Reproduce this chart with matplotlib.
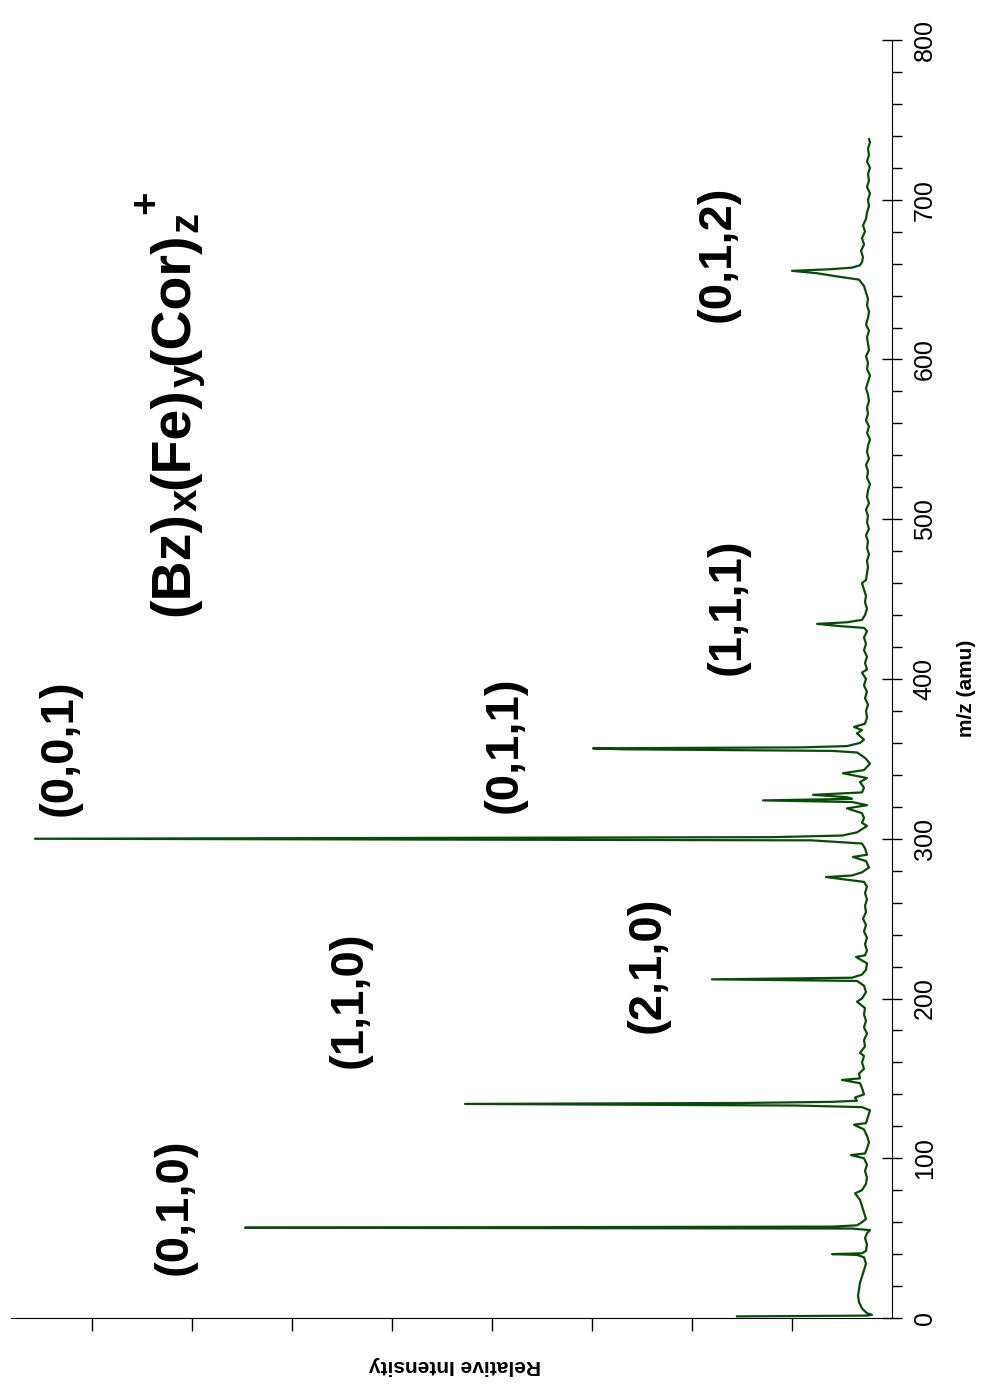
import matplotlib
matplotlib.use("Agg")
import matplotlib.pyplot as plt
from matplotlib.ticker import MultipleLocator

plt.rcParams['font.family'] = ['Liberation Sans', 'DejaVu Sans']

# mass spectrum (m/z in amu, intensity in tick units)
mz = [1.0, 1.5, 2.0, 3, 6, 10, 14, 18, 22, 26, 30, 34, 38, 39.5, 40, 40.5, 42, 46, 50, 53, 55,
      56, 56.5, 57.2, 58, 60, 62, 66, 70, 74, 78, 80, 84, 88, 92, 96, 100, 102, 103, 106, 110,
      114, 118, 121, 122, 126, 130, 132, 133, 134, 134.6, 135.3, 136, 138, 140, 144, 147, 149,
      150, 153, 156, 160, 164, 166, 170, 174, 178, 182, 186, 190, 194, 198, 200, 204, 208, 211,
      212, 213, 215, 218, 222, 226, 227, 230, 234, 238, 242, 246, 250, 254, 258, 262, 266, 270,
      273, 276, 277, 279, 282, 286, 288.6, 290, 294, 297, 299, 300, 301, 302, 304, 306, 308, 310,
      313, 316, 319, 321, 323, 324, 325, 326, 327.5, 329, 332, 335.5, 338, 341, 343, 347, 350,
      352, 354, 355, 356, 356.6, 357.2, 358, 360, 362, 366, 368, 370, 372, 376, 380, 384, 388,
      392, 396, 400, 404, 406, 410, 414, 418, 422, 426, 430, 432, 433, 434.5, 435.5, 437, 440,
      444, 448, 452, 456, 460, 462, 466, 470, 474, 478, 482, 486, 490, 494, 498, 502, 506, 510,
      514, 518, 522, 526, 530, 534, 538, 542, 546, 550, 554, 558, 562, 566, 570, 574, 578, 582,
      586, 590, 594, 598, 602, 606, 610, 614, 618, 622, 626, 630, 634, 638, 642, 646, 650, 652,
      654, 655.5, 656.5, 657.5, 659, 661, 664, 668, 672, 676, 680, 684, 688, 692, 696, 700, 704,
      708, 712, 716, 720, 724, 728, 732, 736, 738]
intensity = [1.55, 0.25, 0.20, 0.25, 0.30, 0.33, 0.34, 0.33, 0.32, 0.30, 0.28, 0.26, 0.28, 0.35,
             0.60, 0.30, 0.26, 0.25, 0.27, 0.25, 0.22,
             0.40, 6.47, 0.60, 0.35, 0.30, 0.26, 0.28, 0.30, 0.32, 0.37, 0.30, 0.26, 0.25, 0.27,
             0.25, 0.28, 0.41, 0.27, 0.25, 0.23,
             0.25, 0.28, 0.38, 0.26, 0.24, 0.22, 0.30, 0.95, 4.27, 1.50, 0.60, 0.35, 0.37, 0.28,
             0.30, 0.32, 0.50,
             0.32, 0.33, 0.28, 0.30, 0.28, 0.32, 0.27, 0.28, 0.25, 0.28, 0.26, 0.28, 0.27, 0.35,
             0.30, 0.26, 0.28, 0.35,
             1.80, 0.40, 0.30, 0.26, 0.25, 0.36, 0.27, 0.25, 0.27, 0.25, 0.28, 0.26, 0.29, 0.26,
             0.27, 0.25, 0.27, 0.25,
             0.28, 0.66, 0.40, 0.30, 0.23, 0.26, 0.39, 0.25, 0.27, 0.30, 0.80, 8.57, 1.20, 0.50,
             0.35, 0.30, 0.25, 0.30,
             0.28, 0.30, 0.45, 0.25, 0.40, 1.29, 0.40, 0.45, 0.79, 0.30, 0.28, 0.32, 0.25, 0.49,
             0.28, 0.22, 0.26,
             0.30, 0.35, 0.60, 2.69, 2.99, 0.90, 0.45, 0.32, 0.28, 0.35, 0.30, 0.38, 0.27, 0.25,
             0.26, 0.24, 0.27,
             0.25, 0.28, 0.26, 0.30, 0.25, 0.27, 0.25, 0.28, 0.26, 0.28, 0.25, 0.28, 0.50, 0.75,
             0.45, 0.30, 0.27,
             0.25, 0.27, 0.26, 0.28, 0.30, 0.26, 0.25, 0.24, 0.25, 0.23, 0.25, 0.24, 0.26, 0.23,
             0.25, 0.24, 0.26, 0.23,
             0.25, 0.24, 0.22, 0.25, 0.24, 0.26, 0.23, 0.25, 0.24, 0.22, 0.25, 0.23, 0.26, 0.24,
             0.25, 0.23, 0.24, 0.26,
             0.24, 0.22, 0.25, 0.24, 0.26, 0.23, 0.24, 0.25, 0.23, 0.26, 0.24, 0.23, 0.25, 0.24,
             0.26, 0.28, 0.33,
             0.55, 0.75, 1.00, 0.62, 0.40, 0.32, 0.30, 0.29, 0.31, 0.28, 0.30, 0.27, 0.29, 0.26,
             0.25, 0.23, 0.24,
             0.22, 0.25, 0.23, 0.24, 0.22, 0.25, 0.23, 0.24, 0.22, 0.23]

mz_ticks = list(range(0, 801, 100))
int_ticks = [1, 2, 3, 4, 5, 6, 7, 8]

# cluster labels (x, y, z) and where they sit on the page (pixels)
peak_labels = ["(0,1,0)", "(1,1,0)", "(2,1,0)", "(0,0,1)", "(0,1,1)", "(1,1,1)", "(0,1,2)"]
label_pos = [(175, 1207), (350, 1000), (648, 965), (60, 748), (505, 745), (728, 607), (718, 254)]

# title pieces: text, font size, baseline x (pixels)
title_parts = [("(Bz)", 40, 188), ("x", 29, 197), ("(Fe)", 40, 188), ("y", 29, 197),
               ("(Cor)", 40, 188), ("z", 29, 197)]

W, H = 981, 1385
fig = plt.figure(figsize=(W / 100, H / 100), dpi=100)
ax = fig.add_axes([11 / W, 1 - 1318 / H, (892 - 11) / W, (1318 - 40) / H])

# spectrum drawn sideways: intensity grows to the left, m/z goes up
ax.plot(intensity, mz, color='#0a4a0a', linewidth=1.6)
ax.set_xlim(8.81, 0)
ax.set_ylim(0, 800)

ax.spines['left'].set_visible(False)
ax.spines['top'].set_visible(False)
ax.yaxis.tick_right()
ax.set_yticks(mz_ticks)
ax.yaxis.set_minor_locator(MultipleLocator(20))
ax.tick_params(axis='y', which='major', direction='inout', length=14, width=1, labelsize=18, pad=8)
ax.tick_params(axis='y', which='minor', direction='out', length=7, width=1)
for lab in ax.get_yticklabels():
    lab.set_rotation(90)
    lab.set_va('center')
ax.set_xticks(int_ticks)
ax.set_xticklabels([])
ax.tick_params(axis='x', which='major', direction='out', length=9, width=1)

fig.text(967 / W, 1 - 688 / H, "m/z (amu)", rotation=90, ha='center', va='center',
         fontsize=15, fontweight='bold')
fig.text(455 / W, 1 - 1365 / H, "Relative Intensity", rotation=180, ha='center', va='center',
         fontsize=15, fontweight='bold')

for lab, (px, py) in zip(peak_labels, label_pos):
    fig.text(px / W, 1 - py / H, lab, rotation=90, ha='center', va='center',
             fontsize=34, fontweight='bold')

# title written piece by piece so the subscripts keep a large size
renderer = fig.canvas.get_renderer()
ypix = 616
for txt, size, xb in title_parts:
    t = fig.text(xb / W, 1 - ypix / H, txt, rotation=90, rotation_mode='anchor',
                 ha='left', va='baseline', fontsize=size, fontweight='bold')
    ypix -= t.get_window_extent(renderer).height
fig.text(157 / W, 1 - (ypix + 2) / H, "+", rotation=90, rotation_mode='anchor',
         ha='left', va='baseline', fontsize=29, fontweight='bold')

fig.savefig("out.png", dpi=100)
